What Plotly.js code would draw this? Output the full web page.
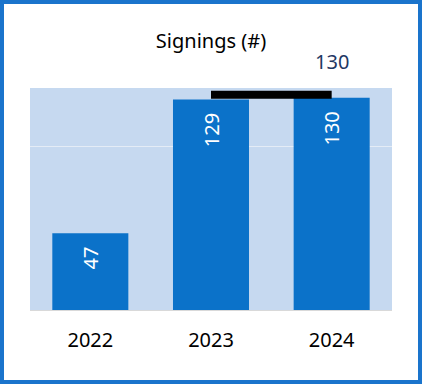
<!DOCTYPE html>
<html>
<head>
<meta charset="utf-8">
<script src="https://cdn.plot.ly/plotly-3.0.1.min.js"></script>
<style>
html,body{margin:0;padding:0;background:#fff;}
#wrap{position:relative;width:422px;height:384px;}
#chart{position:absolute;left:0;top:0;width:422px;height:384px;}
#frame{position:absolute;left:0;top:0;width:422px;height:384px;box-sizing:border-box;border:4px solid #1a74cc;pointer-events:none;}
</style>
</head>
<body>
<div id="wrap"><div id="chart"></div><div id="frame"></div></div>
<script>
const years = ['2022', '2023', '2024'];
const signings = [47, 129, 130];
const bracketYears = ['2023', '2024'];
const bracketLevel = [131.8, 131.8];
const totalLabel = '130';
const chartTitle = 'Signings (#)';

const FONT = 'Noto Sans, Open Sans, sans-serif';

const bars = {
  type: 'bar',
  x: years,
  y: signings,
  marker: {color: '#0b72c9'},
  text: signings.map(v => String(v) + '\u00a0\u00a0'),
  textposition: 'inside',
  insidetextanchor: 'end',
  textangle: -90,
  insidetextfont: {color: '#ffffff', size: 20, family: FONT},
  hoverinfo: 'skip'
};

const bracket = {
  type: 'scatter',
  mode: 'lines',
  x: bracketYears,
  y: bracketLevel,
  line: {color: '#000000', width: 8},
  hoverinfo: 'skip',
  cliponaxis: false
};

const layout = {
  width: 422,
  height: 384,
  margin: {l: 30, r: 30, t: 88, b: 74},
  paper_bgcolor: '#ffffff',
  plot_bgcolor: '#c6d9f0',
  showlegend: false,
  bargap: 0.37,
  title: {
    text: chartTitle,
    font: {family: FONT, size: 20, color: '#000000'},
    x: 0.5, xanchor: 'center', xref: 'paper',
    y: 1 - 41/384, yanchor: 'middle', yref: 'container'
  },
  xaxis: {
    type: 'category',
    categoryorder: 'array',
    categoryarray: years,
    range: [-0.5, 2.5],
    showgrid: false,
    showline: true,
    linecolor: '#d9d9d9',
    linewidth: 1,
    ticks: 'outside',
    ticklen: 12,
    tickcolor: 'rgba(0,0,0,0)',
    tickfont: {family: FONT, size: 20, color: '#000000'}
  },
  yaxis: {
    range: [0, 136],
    dtick: 100,
    showticklabels: false,
    showgrid: true,
    gridcolor: '#e4ecf6',
    gridwidth: 1,
    zeroline: false,
    showline: false
  },
  annotations: [{
    x: 2,
    y: signings[2],
    xref: 'x',
    yref: 'y',
    text: totalLabel,
    showarrow: false,
    yanchor: 'middle',
    yshift: 36,
    font: {family: FONT, size: 20, color: '#1f3864'}
  }]
};

Plotly.newPlot('chart', [bars, bracket], layout, {displayModeBar: false});
</script>
</body>
</html>
